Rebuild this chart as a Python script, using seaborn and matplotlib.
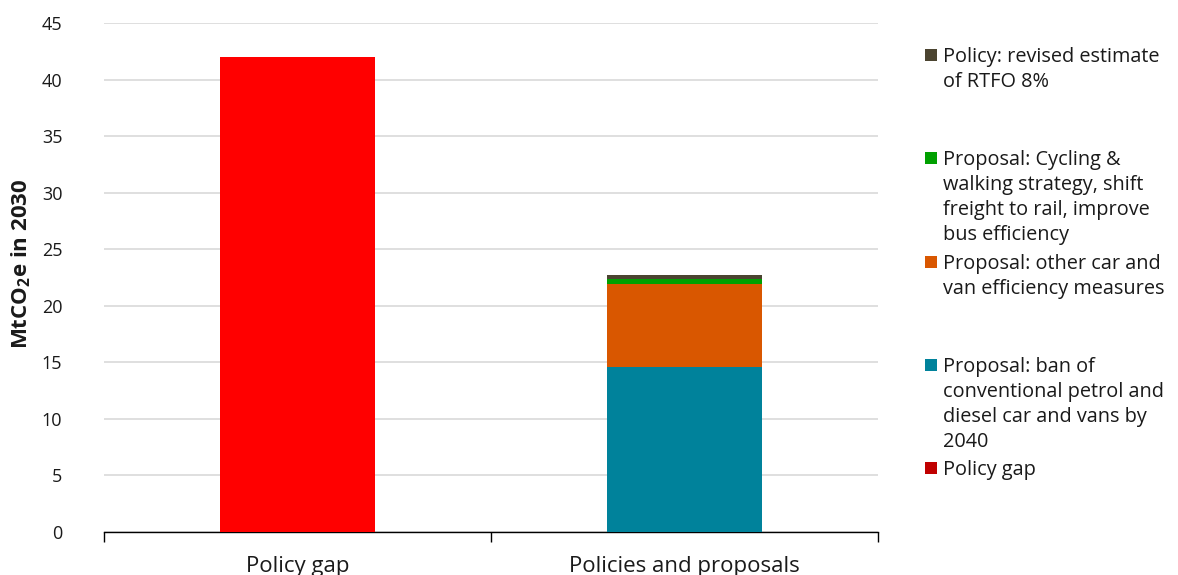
import numpy as np
import pandas as pd
import matplotlib
matplotlib.use("Agg")
import matplotlib.pyplot as plt
import seaborn as sns

# Categories on the x axis
categories = ["Policy gap", "Policies and proposals"]

# Stacked series, bottom to top (MtCO2e in 2030)
series_names = [
    "Policy gap",
    "Proposal: ban of\nconventional petrol and\ndiesel car and vans by\n2040",
    "Proposal: other car and\nvan efficiency measures",
    "Proposal: Cycling &\nwalking strategy, shift\nfreight to rail, improve\nbus efficiency",
    "Policy: revised estimate\nof RTFO 8%",
]
policy_gap = [42.0, 0.0]
ban_petrol_diesel = [0.0, 14.6]
other_car_van = [0.0, 7.3]
cycling_walking = [0.0, 0.5]
rtfo_revised = [0.0, 0.35]

bar_colors = ["#FF0000", "#00829B", "#D95700", "#00A000", "#4B4430"]
legend_colors = ["#C00000", "#00829B", "#D95700", "#00A000", "#4B4430"]

y_ticks = [0, 5, 10, 15, 20, 25, 30, 35, 40, 45]

sns.set_theme(style="white")
plt.rcParams["font.family"] = ["Open Sans", "DejaVu Sans"]
plt.rcParams["mathtext.fontset"] = "custom"
plt.rcParams["mathtext.rm"] = "Open Sans"
plt.rcParams["mathtext.bf"] = "Open Sans:bold"

text_color = "#1a1a1a"

fig = plt.figure(figsize=(11.78, 5.75), dpi=100)
ax = fig.add_axes([0.0883, 0.0748, 0.7453 - 0.0883, 0.96 - 0.0748])

values = [policy_gap, ban_petrol_diesel, other_car_van, cycling_walking, rtfo_revised]
bottom = np.zeros(len(categories))
for name, vals, col in zip(series_names, values, bar_colors):
    df = pd.DataFrame({"category": categories, "value": vals})
    sns.barplot(data=df, x="category", y="value", order=categories,
                color=col, width=0.4, bottom=bottom.copy(), errorbar=None,
                saturation=1, linewidth=0, ax=ax, zorder=3)
    bottom = bottom + np.array(vals)

ax.set_xlim(-0.5, 1.5)
ax.set_ylim(0, 45)
ax.set_yticks(y_ticks)
ax.set_yticklabels([str(t) for t in y_ticks], fontsize=13, color=text_color)
ax.yaxis.grid(True, color="#D9D9D9", linewidth=1.2, zorder=0)
ax.set_axisbelow(True)
ax.tick_params(axis="y", length=0, pad=30)

# Category labels centred under bars, tick marks on category boundaries
ax.set_xticks([-0.5, 0.5, 1.5], minor=False)
ax.set_xticklabels([])
ax.tick_params(axis="x", which="major", direction="out", length=7, width=1, color="black", bottom=True)
ax.set_xticks([0, 1], minor=True)
ax.set_xticklabels(categories, minor=True, fontsize=16, color=text_color)
ax.tick_params(axis="x", which="minor", length=0, pad=17)
ax.set_xlabel("")

for s in ["top", "right", "left"]:
    ax.spines[s].set_visible(False)
ax.spines["bottom"].set_color("black")
ax.spines["bottom"].set_linewidth(1)

ax.set_ylabel(r"MtCO$_\mathbf{2}$e in 2030", fontsize=16, fontweight="bold",
              color=text_color)
ax.yaxis.set_label_coords(-0.092, 0.527)

# Legend, top entry first
W, H = 1178, 575
entry_centres = [55, 158, 262, 365, 468]
for name, col, yc in zip(series_names[::-1], legend_colors[::-1], entry_centres):
    fig.patches.append(plt.Rectangle((925 / W, 1 - (yc + 6) / H), 12 / W, 12 / H,
                                     transform=fig.transFigure, color=col, lw=0))
    fig.text(943 / W, 1 - (yc - 8) / H, name, fontsize=14.3, color=text_color,
             va="top", ha="left", linespacing=1.33)

fig.savefig("out.png", dpi=100)
